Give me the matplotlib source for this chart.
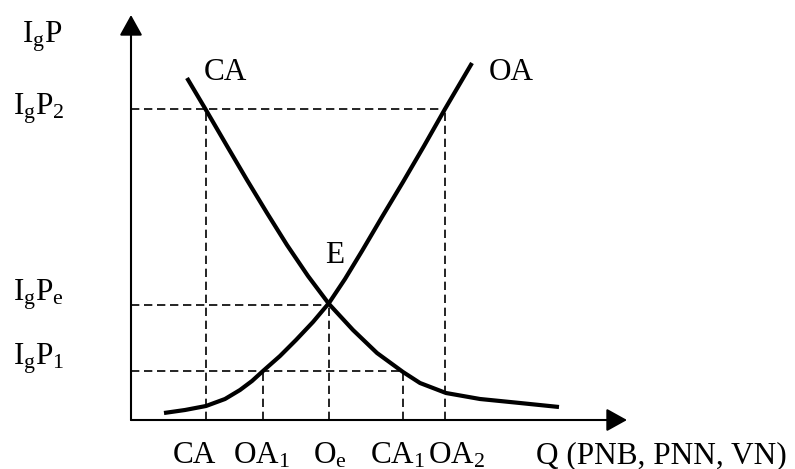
import matplotlib.pyplot as plt

plt.rcParams["font.family"] = ["Liberation Serif", "DejaVu Serif"]
plt.rcParams["mathtext.fontset"] = "custom"
plt.rcParams["mathtext.rm"] = "Liberation Serif"
plt.rcParams["mathtext.it"] = "Liberation Serif:italic"

# demand curve CA (Q, lgP)
ca_q = [56, 75, 96, 116, 136, 156, 177, 198, 222, 246, 272, 289, 315, 349, 389, 428]
ca_p = [342, 310, 274, 240, 207, 175, 144, 116, 90, 67, 48, 37, 27, 21, 17, 13]

# supply curve OA
oa_q = [33, 54, 75, 94, 109, 121, 132, 149, 165, 182, 198, 214, 231, 251, 272, 293, 314, 341]
oa_p = [7, 10, 14, 21, 30, 39, 49, 64, 80, 98, 117, 141, 169, 203, 238, 274, 311, 357]

# guide levels
q_marks = [75, 132, 198, 272, 314]
q_labels = ["CA", r"OA$_1$", r"O$_\mathrm{e}$", r"CA$_1$", r"OA$_2$"]
q_mark_height = [311, 49, 115, 49, 311]

p_marks = [311, 115, 49]
p_labels = [r"I$_\mathrm{g}$P$_2$", r"I$_\mathrm{g}$P$_\mathrm{e}$", r"I$_\mathrm{g}$P$_1$"]
p_mark_width = [314, 198, 272]

W, H = 795, 469
X0, Y0 = 131, 420          # origin in pixels
XLEN, YLEN = 496, 405      # axis lengths in pixels

fig = plt.figure(figsize=(W / 100, H / 100), dpi=100)
ax = fig.add_axes([X0 / W, (H - Y0) / H, XLEN / W, YLEN / H])
ax.set_xlim(0, XLEN)
ax.set_ylim(0, YLEN)
ax.axis("off")

fs = 22.5
dash = dict(color="black", lw=1.2, dashes=(5.0, 2.8))

for p, q in zip(p_marks, p_mark_width):
    ax.plot([0, q], [p, p], **dash)
for q, p in zip(q_marks, q_mark_height):
    ax.plot([q, q], [0, p], **dash)

ax.plot(ca_q, ca_p, color="black", lw=3.0, solid_capstyle="butt", solid_joinstyle="round")
ax.plot(oa_q, oa_p, color="black", lw=3.0, solid_capstyle="butt", solid_joinstyle="round")

arrow = dict(arrowstyle="-|>,head_length=0.9,head_width=0.5", color="black",
             lw=1.5, mutation_scale=14, shrinkA=0, shrinkB=0)
ax.annotate("", xy=(XLEN, 0), xytext=(0, 0), arrowprops=arrow, annotation_clip=False)
ax.annotate("", xy=(0, YLEN), xytext=(0, 0), arrowprops=arrow, annotation_clip=False)

# text
ax.text(-109, 377, r"I$_\mathrm{g}$P", fontsize=fs, ha="left", va="baseline")
p_label_base = [305, 120, 55]
for lab, yb in zip(p_labels, p_label_base):
    ax.text(-118, yb, lab, fontsize=fs, ha="left", va="baseline")

ax.text(73, 340, "CA", fontsize=fs, ha="left", va="baseline")
ax.text(358, 340, "OA", fontsize=fs, ha="left", va="baseline")
ax.text(194, 157, "E", fontsize=fs, ha="left", va="baseline")

q_label_left = [42, 102, 182, 239, 297]
for lab, xl in zip(q_labels, q_label_left):
    ax.text(xl, -43, lab, fontsize=fs, ha="left", va="baseline")
ax.text(405, -43, "Q (PNB, PNN, VN)", fontsize=fs, ha="left", va="baseline")

fig.savefig("out.png", dpi=100)
